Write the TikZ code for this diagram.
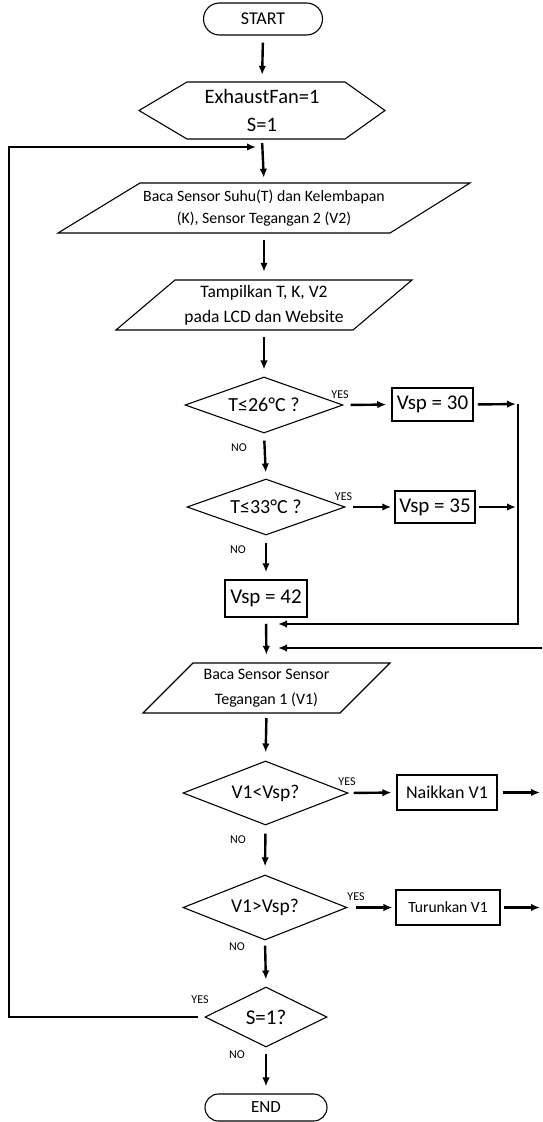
\documentclass[tikz,border=0pt]{standalone}
\usepackage{fontspec}
\setmainfont{Carlito}
\usetikzlibrary{shapes.geometric,shapes.misc,arrows.meta}
\begin{document}
\begin{tikzpicture}[x=1pt,y=-1pt,
  flow/.style={line width=2.4pt,-{Latex[length=9pt,width=7.5pt]}},
  outline/.style={draw,line width=1.1pt,line join=miter},
  txt/.style={inner sep=0pt,align=center},
  box/.style={draw,line width=1.5pt,inner sep=0pt},
  decision/.style={diamond,draw,line width=1.1pt,inner sep=0pt},
  term/.style={rounded rectangle,draw,line width=1.1pt,inner sep=0pt},
  lbl/.style={inner sep=0pt,font=\fontsize{12}{12}\selectfont}]
\useasboundingbox (0,0) rectangle (542,1122);

% terminators
\node[term,minimum width=119pt,minimum height=32pt,font=\fontsize{18}{20}\selectfont] (start) at (263,19) {START};
\node[term,minimum width=122pt,minimum height=27pt,font=\fontsize{17}{20}\selectfont] (end) at (266,1107.5) {END};

% hexagon
\node[txt,minimum height=57pt,minimum width=160pt,font=\fontsize{20.5}{28}\selectfont] (hex) at (262,110.5) {ExhaustFan=1\\S=1};
\draw[outline] (139,110.5) -- (187,82) -- (345,82) -- (385,110.5) -- (345,139) -- (187,139) -- cycle;

% parallelogram 1
\node[txt,minimum height=50pt,font=\fontsize{15.8}{21.5}\selectfont] (p1) at (264,208) {Baca Sensor Suhu(T) dan Kelembapan\\(K), Sensor Tegangan 2 (V2)};
\draw[outline] (140,183) -- (470,183) -- (390,233) -- (58,233) -- cycle;

% parallelogram 2
\node[txt,minimum height=50pt,font=\fontsize{17.5}{25}\selectfont] (p2) at (264,305) {Tampilkan T, K, V2\\pada LCD dan Website};
\draw[outline] (175,280) -- (412,280) -- (353,330) -- (116,330) -- cycle;

% decisions temperature
\node[decision,aspect=2.82,minimum width=158pt,minimum height=56pt,font=\fontsize{20}{22}\selectfont] (d1) at (264,405) {T≤26°C ?};
\node[decision,aspect=2.82,minimum width=158pt,minimum height=56pt,font=\fontsize{20}{22}\selectfont] (d2) at (266,507) {T≤33°C ?};

% Vsp boxes
\node[box,minimum width=81pt,minimum height=33pt,font=\fontsize{21}{24}\selectfont] (b30) at (432.5,404.5) {Vsp = 30};
\node[box,minimum width=80pt,minimum height=32pt,font=\fontsize{21}{24}\selectfont] (b35) at (435,507) {Vsp = 35};
\node[box,minimum width=82pt,minimum height=37pt,font=\fontsize{21}{24}\selectfont] (b42) at (266,598.5) {Vsp = 42};

% parallelogram 3
\node[txt,minimum height=50pt,font=\fontsize{16}{25}\selectfont] (p3) at (266.5,688) {Baca Sensor Sensor\\Tegangan 1 (V1)};
\draw[outline] (193,663) -- (390,663) -- (340,713) -- (143,713) -- cycle;

% decisions voltage
\node[decision,aspect=2.58,minimum width=165pt,minimum height=64pt,font=\fontsize{19.5}{22}\selectfont] (d3) at (265.5,793) {V1<Vsp?};
\node[decision,aspect=2.52,minimum width=164pt,minimum height=65pt,font=\fontsize{19.5}{22}\selectfont] (d4) at (265,907.5) {V1>Vsp?};
\node[box,line width=1.1pt,minimum width=100pt,minimum height=35pt,font=\fontsize{18}{20}\selectfont] (naik) at (447,792.5) {Naikkan V1};
\node[box,line width=1.1pt,minimum width=104pt,minimum height=35pt,font=\fontsize{15.6}{18}\selectfont] (turun) at (448,907.5) {Turunkan V1};
\node[decision,aspect=2.03,minimum width=122pt,minimum height=60pt,font=\fontsize{21}{24}\selectfont] (d5) at (266,1017) {S=1?};

% helper coordinates
\coordinate (c30) at (518,404);
\coordinate (c35) at (518,507);
\coordinate (m1) at (278,624);
\coordinate (r2) at (542,648);
\coordinate (m2) at (278,648);
\coordinate (oN) at (540,792.5);
\coordinate (oT) at (540,907.5);
\coordinate (lb) at (9,1017);
\coordinate (lt) at (9,147);
\coordinate (ltip) at (256,147);

% main flow
\draw[flow,shorten <=7pt,shorten >=7pt] (start.south) -- (hex.north);
\draw[flow,shorten <=4pt,shorten >=5pt] (hex.south) -- (p1.north);
\draw[flow,shorten <=7pt,shorten >=8pt] (p1.south) -- (p2.north);
\draw[flow,shorten <=7pt,shorten >=7pt] (p2.south) -- (d1.north);
\draw[flow,shorten <=7pt,shorten >=6pt] (d1.south) -- (d2.north);
\draw[flow,shorten <=7pt,shorten >=7pt] (d2.south) -- (b42.north);
\draw[flow,shorten <=6pt,shorten >=8pt] (b42.south) -- (p3.north);
\draw[flow,shorten <=5pt,shorten >=8pt] (p3.south) -- (d3.north);
\draw[flow,shorten <=8pt,shorten >=8pt] (d3.south) -- (d4.north);
\draw[flow,shorten <=5pt,shorten >=7pt] (d4.south) -- (d5.north);
\draw[flow,shorten <=6pt,shorten >=7pt] (d5.south) -- (end.north);

% yes branches
\draw[flow,shorten <=7pt,shorten >=5pt] (d1.east) -- (b30.west);
\draw[flow,shorten <=7pt,shorten >=3pt] (d2.east) -- (b35.west);
\draw[flow,shorten <=4pt,shorten >=2pt] (b30.east) -- (c30);
\draw[flow,shorten <=3pt,shorten >=2pt] (b35.east) -- (c35);
\draw[flow,line width=2.8pt] (c30) |- (m1);
\draw[flow,line width=2.8pt] (r2) -- (m2);
\draw[flow,shorten <=5pt,shorten >=5pt] (d3.east) -- (naik.west);
\draw[flow,shorten <=5pt] (naik.east) -- (oN);
\draw[flow,shorten <=8pt,shorten >=3pt] (d4.east) -- (turun.west);
\draw[flow,shorten <=3pt] (turun.east) -- (oT);

% loop back
\draw[flow,line width=2.8pt,shorten <=6pt] (d5.west) -- (lb) -- (lt) -- (ltip);

% labels
\node[lbl] (y1) at (340,395) {YES};
\node[lbl] (y2) at (343.5,497) {YES};
\node[lbl] (y3) at (347,782) {YES};
\node[lbl] (y4) at (356,897) {YES};
\node[lbl] (y5) at (200,1000) {YES};
\node[lbl] (n1) at (239,448) {NO};
\node[lbl] (n2) at (238,550) {NO};
\node[lbl] (n3) at (238,840) {NO};
\node[lbl] (n4) at (237,947) {NO};
\node[lbl] (n5) at (237,1055) {NO};
\end{tikzpicture}
\end{document}
